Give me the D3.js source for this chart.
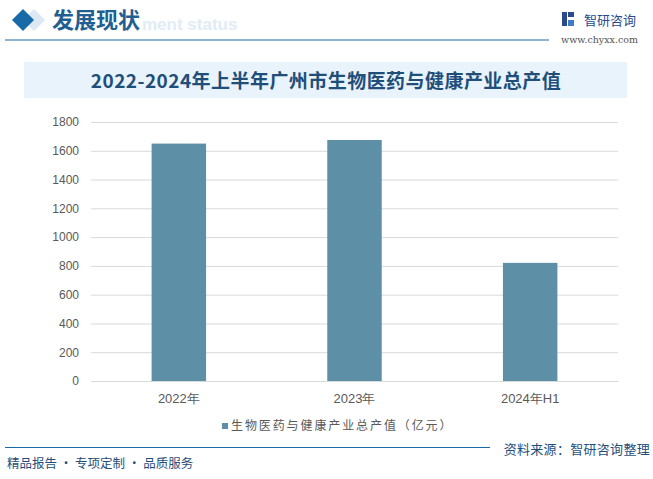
<!DOCTYPE html>
<html>
<head>
<meta charset="utf-8">
<script src="https://cdn.jsdelivr.net/npm/d3@7"></script>
<style>
  body { margin: 0; background: #fff; }
  svg { display: block; font-family: "Noto Sans CJK SC", "Noto Sans", sans-serif; }
</style>
</head>
<body>
<div id="chart"></div>
<script>
// data
const categories = ['2022年', '2023年', '2024年H1'];
const values = [1650, 1675, 821];
const yTicks = [0, 200, 400, 600, 800, 1000, 1200, 1400, 1600, 1800];
const seriesName = '生物医药与健康产业总产值（亿元）';
const chartTitle = '2022-2024年上半年广州市生物医药与健康产业总产值';

const width = 653, height = 479;
const margin = { top: 122, right: 35, bottom: 98, left: 91 };
const innerWidth = width - margin.left - margin.right;
const innerHeight = height - margin.top - margin.bottom;
const barColor = '#5d8fa7';

const svg = d3.select('#chart').append('svg')
  .attr('width', width)
  .attr('height', height);

// header
svg.append('path')
  .attr('d', 'M34,9 L45,20 L34,31 L23,20 Z')
  .attr('fill', '#dce9f4');
svg.append('path')
  .attr('d', 'M23,9 L34,20 L23,31 L12,20 Z')
  .attr('fill', '#1a6aa8');
svg.append('text')
  .attr('x', 142).attr('y', 30)
  .attr('font-size', 17).attr('font-weight', 'bold')
  .attr('fill', '#e1ecf6')
  .attr('font-family', 'Arial, "Liberation Sans", sans-serif')
  .text('ment status');
svg.append('text')
  .attr('x', 52).attr('y', 28)
  .attr('font-size', 22).attr('font-weight', 'bold')
  .attr('fill', '#1f5f92')
  .text('发展现状');
svg.append('line')
  .attr('x1', 5).attr('x2', 549).attr('y1', 40).attr('y2', 40)
  .attr('stroke', '#1a6aa8').attr('stroke-width', 1.2);

// logo
const logo = svg.append('g').attr('transform', 'translate(562,12)');
logo.append('rect').attr('x', 0).attr('y', 0).attr('width', 5).attr('height', 14).attr('fill', '#2b4a8c');
logo.append('rect').attr('x', 6).attr('y', 0).attr('width', 6).attr('height', 5).attr('fill', '#2b4a8c');
logo.append('rect').attr('x', 6).attr('y', 8).attr('width', 6).attr('height', 6).attr('fill', '#3d7cc9');
svg.append('text')
  .attr('x', 584).attr('y', 25)
  .attr('font-size', 13).attr('fill', '#2b4a8c')
  .text('智研咨询');
svg.append('text')
  .attr('x', 638).attr('y', 43)
  .attr('text-anchor', 'end')
  .attr('font-size', 9.5).attr('fill', '#555')
  .attr('font-family', '"DejaVu Serif", serif')
  .text('www.chyxx.com');

// title box
svg.append('rect')
  .attr('x', 24).attr('y', 62).attr('width', 603).attr('height', 36)
  .attr('fill', '#e8f3fb');
svg.append('text')
  .attr('x', 326).attr('y', 88)
  .attr('text-anchor', 'middle')
  .attr('font-size', 19).attr('font-weight', 'bold')
  .attr('letter-spacing', 0.45)
  .attr('fill', '#1f4e79')
  .text(chartTitle);

// chart
const g = svg.append('g')
  .attr('transform', `translate(${margin.left},${margin.top})`);

const x = d3.scaleBand()
  .domain(categories)
  .range([0, innerWidth])
  .paddingInner(0.69)
  .paddingOuter(0.345);

const y = d3.scaleLinear()
  .domain([0, 1800])
  .range([innerHeight, 0]);

const yAxis = d3.axisLeft(y)
  .tickValues(yTicks)
  .tickFormat(d3.format('d'))
  .tickSize(-innerWidth)
  .tickPadding(12);

g.append('g')
  .attr('class', 'y axis')
  .call(yAxis)
  .call(ax => ax.select('.domain').remove())
  .call(ax => ax.selectAll('line').attr('stroke', '#d9d9d9'))
  .call(ax => ax.selectAll('text')
    .attr('fill', '#595959')
    .attr('font-size', 12)
    .attr('font-family', '"Liberation Sans", Arial, sans-serif'));

g.selectAll('rect.bar')
  .data(values)
  .enter().append('rect')
  .attr('class', 'bar')
  .attr('x', (d, i) => x(categories[i]))
  .attr('y', d => y(d))
  .attr('width', x.bandwidth())
  .attr('height', d => innerHeight - y(d))
  .attr('fill', barColor);

const xAxis = d3.axisBottom(x).tickSize(0).tickPadding(13);
g.append('g')
  .attr('class', 'x axis')
  .attr('transform', `translate(0,${innerHeight})`)
  .call(xAxis)
  .call(ax => ax.select('.domain').attr('stroke', '#d9d9d9'))
  .call(ax => ax.selectAll('text')
    .attr('fill', '#595959')
    .attr('font-size', 13));

// legend
svg.append('rect')
  .attr('x', 222).attr('y', 423).attr('width', 6).attr('height', 6)
  .attr('fill', barColor);
svg.append('text')
  .attr('x', 231).attr('y', 430)
  .attr('font-size', 12).attr('fill', '#595959')
  .attr('letter-spacing', 1.9)
  .text(seriesName);

// footer
svg.append('line')
  .attr('x1', 5).attr('x2', 490).attr('y1', 447.5).attr('y2', 447.5)
  .attr('stroke', '#1a6aa8').attr('stroke-width', 1);
svg.append('text')
  .attr('x', 650).attr('y', 454)
  .attr('text-anchor', 'end')
  .attr('font-size', 13).attr('fill', '#1f4e79')
  .attr('letter-spacing', 0.3)
  .text('资料来源：智研咨询整理');
svg.append('text')
  .attr('x', 7).attr('y', 468)
  .attr('font-size', 12.5).attr('fill', '#1f4e79')
  .text('精品报告 · 专项定制 · 品质服务');
</script>
</body>
</html>
